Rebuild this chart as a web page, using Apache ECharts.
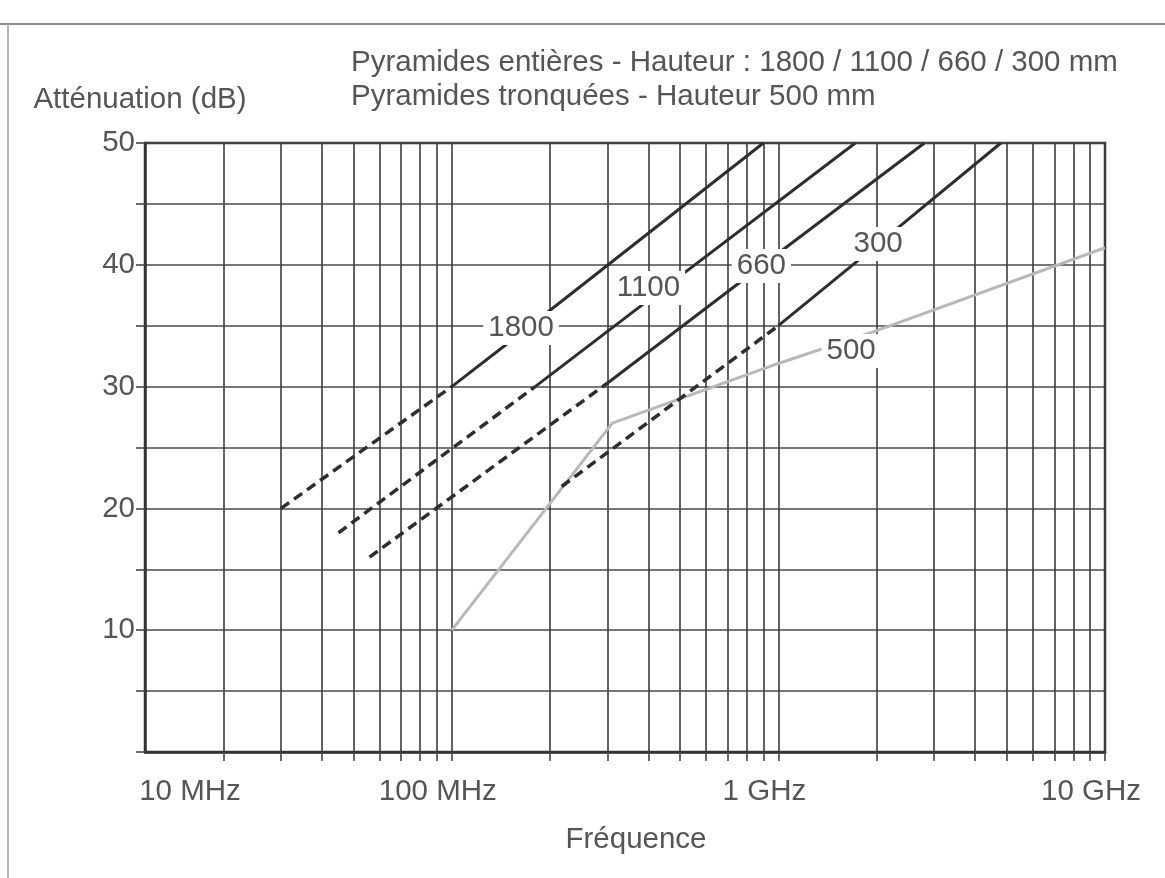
<!DOCTYPE html>
<html>
<head>
<meta charset="utf-8">
<script src="https://cdn.jsdelivr.net/npm/echarts@6/dist/echarts.min.js"></script>
<style>
  html, body { margin: 0; padding: 0; background: #ffffff; }
  #chart { width: 1165px; height: 878px; }
</style>
</head>
<body>
<div id="chart"></div>
<script>
// Frequencies in MHz, attenuation in dB.
const gridFreqs = [20, 30, 40, 50, 60, 70, 80, 90,
                   100, 200, 300, 400, 500, 600, 700, 800, 900,
                   1000, 2000, 3000, 4000, 5000, 6000, 7000, 8000, 9000, 10000];
const xTickValues = [100, 1000, 10000];
const xTickTexts = ['100 MHz', '1 GHz', '10 GHz'];
const xFirstTickText = '10 MHz';
const yTickValues = [10, 20, 30, 40, 50];

// Full pyramids: dashed part (extrapolated) and solid part, label point at index 1 of solid
const h1800Dashed = [[30, 20], [100, 30]];
const h1800Solid  = [[100, 30], [163, 34.4], [900, 50]];
const h1100Dashed = [[45, 18], [180, 30]];
const h1100Solid  = [[180, 30], [400, 37.1], [1720, 50]];
const h660Dashed  = [[56, 16], [300, 30.3]];
const h660Solid   = [[300, 30.3], [887, 39.9], [2800, 50]];
const h300Dashed  = [[217, 21.8], [1000, 35]];
const h300Solid   = [[1000, 35], [2020, 41.7], [4800, 50]];
// Truncated pyramids, 500 mm
const t500 = [[100, 10], [310, 27], [1000, 31.9], [1670, 33.9], [2000, 34.6], [10000, 41.4]];

const FONT = '"Liberation Sans", Arial, Helvetica, sans-serif';
const TEXT = '#555555';
const DARK = '#2e2e2e';
const LIGHT = '#b8b8b8';
const FS = 29.5;

function lineSeries(name, data, opts) {
  const items = data.map((p, i) => {
    if (i !== opts.labelIndex) return p;
    return {
      value: p,
      symbol: 'circle',
      symbolSize: 1,
      itemStyle: { color: '#ffffff' },
      label: {
        show: true,
        position: 'inside',
        formatter: name,
        offset: opts.labelOffset || [0, 0],
        fontFamily: FONT,
        fontSize: FS,
        color: TEXT,
        backgroundColor: '#ffffff',
        padding: [3, 5, 1, 5]
      }
    };
  });
  return {
    type: 'line',
    name: name,
    data: items,
    symbol: 'none',
    silent: true,
    animation: false,
    z: opts.z || 3,
    lineStyle: {
      color: opts.color,
      width: opts.dashed ? 3.5 : 3,
      type: opts.dashed ? [10, 6] : 'solid',
      cap: 'butt'
    }
  };
}

const chart = echarts.init(document.getElementById('chart'), null, { renderer: 'canvas' });

chart.setOption({
  backgroundColor: '#ffffff',
  animation: false,
  title: {
    text: 'Pyramides entières - Hauteur : 1800 / 1100 / 660 / 300 mm\nPyramides tronquées - Hauteur 500 mm',
    left: 351,
    top: 46,
    padding: 0,
    textStyle: {
      fontFamily: FONT,
      fontSize: FS,
      fontWeight: 'normal',
      color: TEXT,
      lineHeight: 34
    }
  },
  grid: {
    left: 145, right: 60, top: 143, bottom: 126,
    show: true,
    borderColor: '#333333',
    borderWidth: 2.5,
    backgroundColor: 'transparent'
  },
  xAxis: {
    type: 'log',
    logBase: 10,
    min: 11.5,
    max: 10000,
    axisLine: { show: true, onZero: false, lineStyle: { color: '#333333', width: 2.5 } },
    axisTick: {
      show: true,
      customValues: gridFreqs,
      length: 9,
      inside: false,
      lineStyle: { color: '#444444', width: 1.6 }
    },
    splitLine: { show: true, lineStyle: { color: '#3c3c3c', width: 1.6 } },
    minorTick: { show: false },
    minorSplitLine: { show: false },
    axisLabel: {
      customValues: xTickValues,
      formatter: v => {
        const i = xTickValues.findIndex(t => Math.abs(t - v) / t < 1e-6);
        return i >= 0 ? xTickTexts[i] : '';
      },
      fontFamily: FONT,
      fontSize: FS,
      color: TEXT,
      margin: 25,
      padding: [0, 28, 0, 0]
    },
    name: 'Fréquence',
    nameLocation: 'middle',
    nameGap: 73,
    nameTextStyle: { fontFamily: FONT, fontSize: FS, color: TEXT, padding: [0, 0, 0, 22] }
  },
  yAxis: {
    type: 'value',
    min: 0,
    max: 50,
    interval: 5,
    axisLine: { show: true, onZero: false, lineStyle: { color: '#333333', width: 2.5 } },
    axisTick: { show: true, length: 9, inside: false, lineStyle: { color: '#444444', width: 1.6 } },
    splitLine: { show: true, lineStyle: { color: '#4a4a4a', width: 1.5 } },
    axisLabel: {
      customValues: yTickValues,
      fontFamily: FONT,
      fontSize: FS,
      color: TEXT,
      margin: 10
    },
    name: 'Atténuation (dB)',
    nameLocation: 'end',
    nameGap: 28,
    nameTextStyle: { fontFamily: FONT, fontSize: FS, color: TEXT, padding: [0, 10, 0, 0] }
  },
  graphic: [
    { type: 'line', silent: true, shape: { x1: 0, y1: 24, x2: 1165, y2: 24 },
      style: { stroke: '#8a8a8a', lineWidth: 2 } },
    { type: 'line', silent: true, shape: { x1: 8, y1: 24, x2: 8, y2: 878 },
      style: { stroke: '#a0a0a0', lineWidth: 1.5 } },
    { type: 'text', silent: true, x: 190, y: 792,
      style: { text: xFirstTickText, fontFamily: FONT, fontSize: FS, fill: TEXT,
               align: 'center', verticalAlign: 'middle' } }
  ],
  series: [
    lineSeries('500', t500, { color: LIGHT, labelIndex: 3, labelOffset: [0, 12], z: 2 }),
    lineSeries('1800', h1800Dashed, { color: DARK, dashed: true }),
    lineSeries('1800', h1800Solid, { color: DARK, labelIndex: 1, labelOffset: [0, -5] }),
    lineSeries('1100', h1100Dashed, { color: DARK, dashed: true }),
    lineSeries('1100', h1100Solid, { color: DARK, labelIndex: 1, labelOffset: [0, -12] }),
    lineSeries('660', h660Dashed, { color: DARK, dashed: true }),
    lineSeries('660', h660Solid, { color: DARK, labelIndex: 1 }),
    lineSeries('300', h300Dashed, { color: DARK, dashed: true }),
    lineSeries('300', h300Solid, { color: DARK, labelIndex: 1 })
  ]
});
</script>
</body>
</html>
